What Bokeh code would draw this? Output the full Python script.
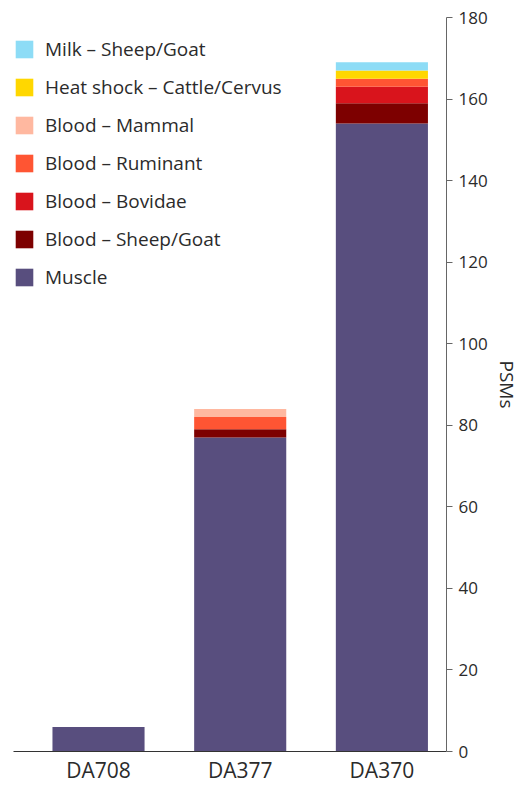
from bokeh.plotting import figure
from bokeh.models import Range1d, FixedTicker, Legend, LegendItem, ColumnDataSource
from bokeh.embed import file_html
from bokeh.resources import INLINE

samples = ["DA708", "DA377", "DA370"]
muscle = [6, 77, 154]
blood_sheep_goat = [0, 2, 5]
blood_bovidae = [0, 0, 4]
blood_ruminant = [0, 3, 2]
blood_mammal = [0, 2, 0]
heat_shock = [0, 0, 2]
milk = [0, 0, 2]
y_ticks = [0, 20, 40, 60, 80, 100, 120, 140, 160, 180]

keys = ["muscle", "blood_sheep_goat", "blood_bovidae", "blood_ruminant",
        "blood_mammal", "heat_shock", "milk"]
labels = ["Muscle", "Blood – Sheep/Goat", "Blood – Bovidae", "Blood – Ruminant",
          "Blood – Mammal", "Heat shock – Cattle/Cervus", "Milk – Sheep/Goat"]
colors = ["#584e7e", "#7d0000", "#d9141c", "#ff5533", "#ffb8a0", "#ffd700", "#8ddcf6"]

xs = [i + 0.5 for i in range(len(samples))]
src = ColumnDataSource(dict(x=xs, muscle=muscle, blood_sheep_goat=blood_sheep_goat,
                            blood_bovidae=blood_bovidae, blood_ruminant=blood_ruminant,
                            blood_mammal=blood_mammal, heat_shock=heat_shock, milk=milk))

p = figure(width=522, height=786, x_range=Range1d(-0.1, 2.956), y_range=Range1d(0, 180),
           output_backend="svg", toolbar_location=None, y_axis_location="right",
           min_border_left=13, min_border_top=17, min_border_right=76, min_border_bottom=35)
p.outline_line_color = None
p.grid.visible = False

rs = p.vbar_stack(keys, x="x", width=0.65, source=src, fill_color=colors, line_color=None)

items = [LegendItem(label=lab, renderers=[r]) for lab, r in zip(labels, rs)][::-1]
legend = Legend(items=items, location=(0, 461), border_line_color=None,
                background_fill_alpha=0, glyph_width=22, glyph_height=22, label_height=22,
                spacing=12, padding=0, margin=0, label_standoff=10,
                label_text_font="Open Sans", label_text_font_size="19px",
                label_text_color="#2b2b2b")
p.add_layout(legend)

xa = p.xaxis[0]
xa.ticker = FixedTicker(ticks=xs)
xa.major_label_overrides = {x: s for x, s in zip(xs, samples)}
xa.major_tick_line_color = None
xa.major_tick_out = 0
xa.minor_tick_line_color = None
xa.axis_line_color = "#333333"
xa.major_label_text_font = "Open Sans"
xa.major_label_text_font_size = "21px"
xa.major_label_text_color = "#2b2b2b"
xa.major_label_standoff = 4

ya = p.yaxis[0]
ya.ticker = FixedTicker(ticks=y_ticks)
ya.minor_tick_line_color = None
ya.major_tick_out = 6
ya.major_tick_in = 0
ya.axis_line_color = "#666666"
ya.major_tick_line_color = "#666666"
ya.major_label_text_font = "Open Sans"
ya.major_label_text_font_size = "17px"
ya.major_label_text_color = "#2b2b2b"
ya.major_label_standoff = 6
ya.axis_label = "PSMs"
ya.axis_label_text_font = "Open Sans"
ya.axis_label_text_font_size = "19px"
ya.axis_label_text_font_style = "normal"
ya.axis_label_text_color = "#2b2b2b"
ya.axis_label_standoff = 3

open("out.html", "w").write(file_html(p, INLINE))
